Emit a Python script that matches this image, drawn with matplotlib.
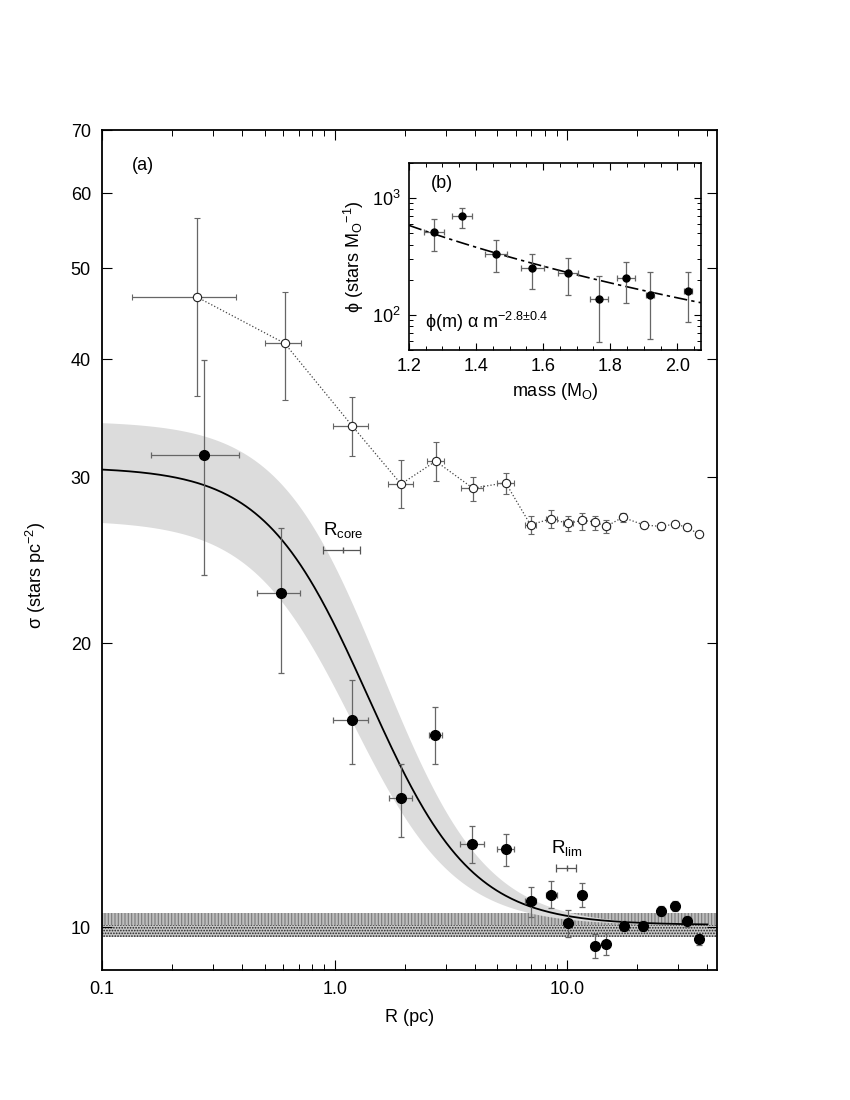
import numpy as np
import matplotlib
matplotlib.use('Agg')
import matplotlib.pyplot as plt
from matplotlib.ticker import FixedLocator, FixedFormatter, NullLocator, LogLocator

plt.rcParams['font.family'] = ['Liberation Sans', 'DejaVu Sans']
plt.rcParams['mathtext.default'] = 'regular'
plt.rcParams['hatch.linewidth'] = 0.8

# radial density profile - open circles (observed), filled (field subtracted)
r_open = [0.255, 0.61, 1.19, 1.93, 2.72, 3.93, 5.43, 6.95, 8.48, 10.06,
          11.6, 13.1, 14.7, 17.3, 21.3, 25.2, 28.9, 32.8, 36.7]
r_open_lo = [0.134, 0.50, 0.98, 1.69, 2.50, 3.50, 4.99, 6.56, 8.09, 9.6,
             11.2, 12.7, 14.2, 16.8, 20.7, 24.5, 28.1, 31.9, 35.7]
r_open_hi = [0.378, 0.72, 1.39, 2.17, 2.95, 4.34, 5.90, 7.36, 9.0, 10.6,
             12.0, 13.5, 15.2, 17.8, 21.9, 25.9, 29.7, 33.7, 37.7]
s_open = [46.6, 41.6, 34.0, 29.5, 31.2, 29.2, 29.6, 26.7, 27.1, 26.8,
          27.0, 26.9, 26.6, 27.2, 26.7, 26.6, 26.75, 26.55, 26.1]
s_open_lo = [36.6, 36.2, 31.6, 27.8, 29.7, 28.3, 28.8, 26.1, 26.5, 26.3,
             26.4, 26.4, 26.2, 26.9, 26.5, 26.4, 26.55, 26.35, 25.9]
s_open_hi = [56.5, 47.1, 36.5, 31.3, 32.7, 30.0, 30.3, 27.3, 27.7, 27.3,
             27.5, 27.3, 27.0, 27.5, 26.9, 26.8, 26.95, 26.75, 26.3]

r_fill = [0.274, 0.586, 1.19, 1.93, 2.71, 3.90, 5.43, 6.95, 8.48, 10.06,
          11.55, 13.1, 14.6, 17.5, 21.1, 25.2, 28.9, 32.8, 36.7]
r_fill_lo = [0.163, 0.465, 0.98, 1.72, 2.55, 3.47, 5.0, 6.56, 8.09, 9.7,
             11.2, 12.7, 14.2, 17.0, 20.5, 24.5, 28.1, 31.9, 35.7]
r_fill_hi = [0.388, 0.712, 1.39, 2.15, 2.90, 4.37, 5.9, 7.36, 9.0, 10.4,
             11.9, 13.5, 15.0, 18.0, 21.7, 25.9, 29.7, 33.7, 37.7]
s_fill = [31.7, 22.6, 16.6, 13.7, 15.98, 12.25, 12.09, 10.66, 10.82, 10.11,
          10.82, 9.55, 9.60, 10.03, 10.03, 10.41, 10.54, 10.14, 9.71]
s_fill_lo = [23.6, 18.6, 14.9, 12.47, 14.9, 11.7, 11.6, 10.26, 10.47, 9.77,
             10.51, 9.27, 9.33, 9.9, 9.9, 10.28, 10.41, 10.01, 9.58]
s_fill_hi = [39.9, 26.5, 18.3, 14.9, 17.1, 12.8, 12.55, 11.04, 11.18, 10.43,
             11.13, 9.84, 9.85, 10.16, 10.16, 10.54, 10.67, 10.27, 9.84]

# King profile fit
sig_bg, sig_bg_err = 10.05, 0.3
sig0, sig0_err = 20.7, 3.7
r_core, r_core_err = 1.05, 0.12
r_core_bar = [0.89, 1.09, 1.29]
r_lim_bar = [8.9, 10.0, 10.9]

# mass function (inset)
mass = [1.275, 1.359, 1.460, 1.568, 1.673, 1.766, 1.847, 1.919, 2.032]
mass_err = [0.03, 0.03, 0.032, 0.034, 0.03, 0.027, 0.027, 0.012, 0.012]
phi = [513, 703, 333, 252, 230, 137, 208, 147, 160]
phi_lo = [353, 559, 231, 167, 147, 58, 127, 62, 87]
phi_hi = [667, 827, 436, 333, 308, 215, 285, 231, 235]
mf_slope, mf_norm = -2.8, 975


def king(r, s0, rc):
    return sig_bg + s0 / (1 + (r / rc) ** 2)


fig = plt.figure(figsize=(8.5, 11), dpi=100)
ax = fig.add_axes([0.12, 0.118, 0.7235, 0.7636])
ax.set_xscale('log')
ax.set_yscale('log')
ax.set_xlim(0.1, 44)
ax.set_ylim(9.0, 70)

# background level
ax.axhspan(sig_bg, sig_bg + sig_bg_err, facecolor='#bdbdbd', edgecolor='#7a7a7a',
           hatch='|||||', lw=0, zorder=1)
ax.axhspan(sig_bg - sig_bg_err, sig_bg, facecolor='#c8c8c8', edgecolor='#222222',
           hatch='......', lw=0, zorder=1)

# fit and uncertainty band
rr = np.logspace(-1, np.log10(40), 400)
ax.fill_between(rr, king(rr, sig0 - sig0_err, r_core - r_core_err),
                king(rr, sig0 + sig0_err, r_core + r_core_err),
                color='#dcdcdc', lw=0, zorder=2)
ax.plot(rr, king(rr, sig0, r_core), color='black', lw=1.3, zorder=3)

ebkw = dict(ecolor='#666666', elinewidth=0.9, capsize=2.5, capthick=0.9)
r_open_a = np.array(r_open)
s_open_a = np.array(s_open)
ax.plot(r_open, s_open, ':', color='#444444', lw=0.9, zorder=3)
ax.errorbar(r_open, s_open,
            xerr=[r_open_a - r_open_lo, np.array(r_open_hi) - r_open_a],
            yerr=[s_open_a - s_open_lo, np.array(s_open_hi) - s_open_a],
            fmt='o', ms=6, mfc='white', mec='#222222', mew=0.8, zorder=4, **ebkw)

r_fill_a = np.array(r_fill)
s_fill_a = np.array(s_fill)
ax.errorbar(r_fill, s_fill,
            xerr=[r_fill_a - r_fill_lo, np.array(r_fill_hi) - r_fill_a],
            yerr=[s_fill_a - s_fill_lo, np.array(s_fill_hi) - s_fill_a],
            fmt='o', ms=7, mfc='black', mec='black', zorder=5, **ebkw)

# core and limiting radius markers
for bar, yb, lab in [(r_core_bar, 25.1, 'R$_{core}$'), (r_lim_bar, 11.54, 'R$_{lim}$')]:
    ax.errorbar([bar[1]], [yb], xerr=[[bar[1] - bar[0]], [bar[2] - bar[1]]],
                fmt='|', ms=4, color='#555555', ecolor='#555555', elinewidth=0.9,
                capsize=3, capthick=0.9, zorder=5)
    ax.text(bar[1], yb * 1.025, lab, ha='center', va='bottom', fontsize=13.5)

ax.xaxis.set_major_locator(FixedLocator([0.1, 1, 10]))
ax.xaxis.set_major_formatter(FixedFormatter(['0.1', '1.0', '10.0']))
ax.xaxis.set_minor_locator(LogLocator(base=10, subs=np.arange(2, 10)))
ax.xaxis.set_minor_formatter(FixedFormatter([]))
yt = [10, 20, 30, 40, 50, 60, 70]
ax.yaxis.set_major_locator(FixedLocator(yt))
ax.yaxis.set_major_formatter(FixedFormatter([str(v) for v in yt]))
ax.yaxis.set_minor_locator(NullLocator())
ax.tick_params(which='both', direction='in', top=True, right=True, labelsize=13)
ax.tick_params(which='major', length=7, width=0.8, pad=8)
ax.tick_params(which='minor', length=4, width=0.7)
for sp in ax.spines.values():
    sp.set_linewidth(1.3)

ax.set_xlabel('R (pc)', fontsize=13, labelpad=8)
ax.set_ylabel('σ (stars pc$^{-2}$)', fontsize=13)
ax.yaxis.set_label_coords(-0.088, 0.47)
ax.text(0.048, 0.958, '(a)', transform=ax.transAxes, fontsize=13, va='center')

# inset: mass function
ins = fig.add_axes([0.481, 0.6818, 0.3435, 0.170])
ins.set_yscale('log')
ins.set_xlim(1.2, 2.07)
ins.set_ylim(50, 2000)
mm = np.linspace(1.2, 2.07, 50)
ins.plot(mm, mf_norm * mm ** mf_slope, color='black', lw=1.2,
         dashes=(8, 2.5, 2, 2.5), zorder=2)
phi_a = np.array(phi)
ins.errorbar(mass, phi, xerr=mass_err,
             yerr=[phi_a - phi_lo, np.array(phi_hi) - phi_a],
             fmt='o', ms=5, mfc='black', mec='black', zorder=3, **ebkw)
ins.xaxis.set_major_locator(FixedLocator([1.2, 1.4, 1.6, 1.8, 2.0]))
ins.xaxis.set_major_formatter(FixedFormatter(['1.2', '1.4', '1.6', '1.8', '2.0']))
ins.xaxis.set_minor_locator(FixedLocator(np.arange(1.25, 2.07, 0.05)))
ins.yaxis.set_major_locator(FixedLocator([100, 1000]))
ins.yaxis.set_major_formatter(FixedFormatter(['10$^2$', '10$^3$']))
ins.yaxis.set_minor_locator(LogLocator(base=10, subs=np.arange(2, 10)))
ins.yaxis.set_minor_formatter(FixedFormatter([]))
ins.tick_params(which='both', direction='in', top=True, right=True, labelsize=13)
ins.tick_params(which='major', length=5, width=0.8, pad=6)
ins.tick_params(which='minor', length=3, width=0.7)
for sp in ins.spines.values():
    sp.set_linewidth(1.2)
ins.set_xlabel('mass (M$_O$)', fontsize=13, labelpad=4)
ins.set_ylabel('ϕ (stars M$_O$$^{-1}$)', fontsize=13, labelpad=4)
ins.text(0.075, 0.893, '(b)', transform=ins.transAxes, fontsize=13, va='center')
ins.text(0.055, 0.15, 'ϕ(m) α m$^{-2.8±0.4}$', transform=ins.transAxes,
         fontsize=13, va='center')

fig.savefig('out.png', dpi=100)
